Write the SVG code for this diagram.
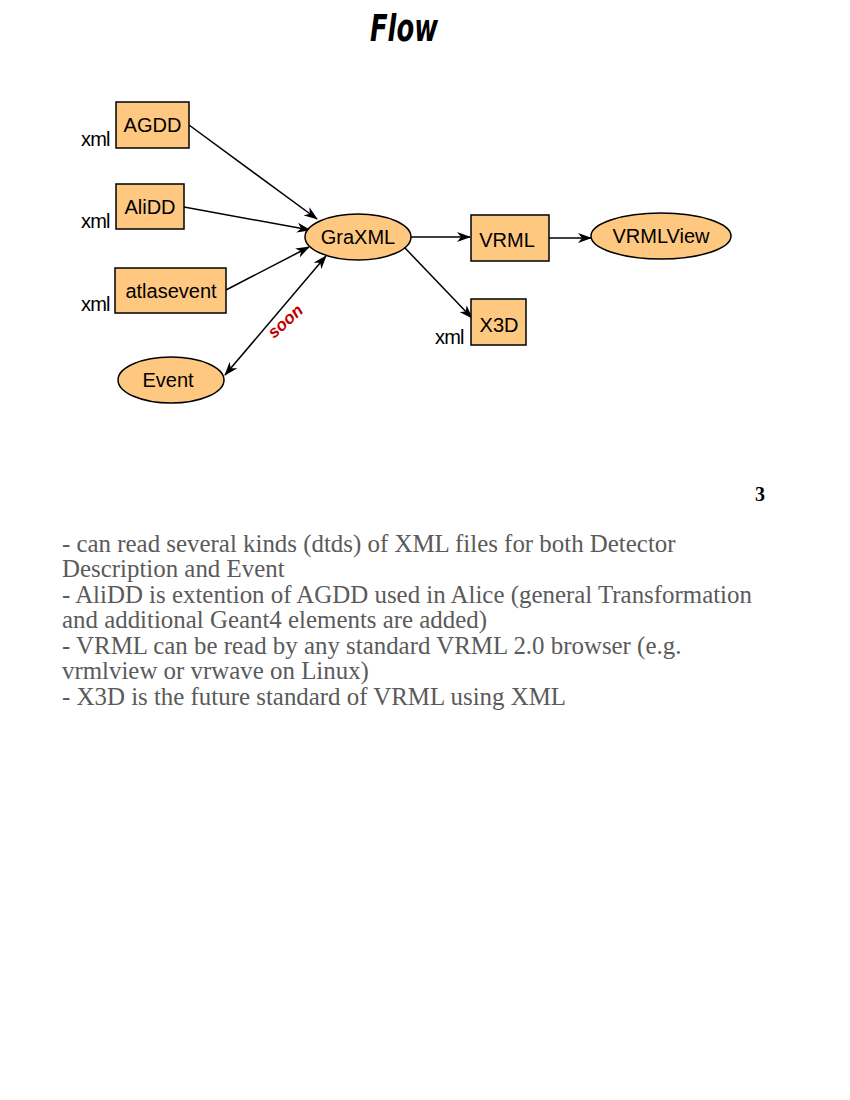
<svg xmlns="http://www.w3.org/2000/svg" width="850" height="1100" viewBox="0 0 850 1100">
<defs>
<marker id="ah" viewBox="0 0 14 10" refX="13" refY="5" markerWidth="14" markerHeight="10" markerUnits="userSpaceOnUse" orient="auto-start-reverse">
<path d="M0,0 L14,5 L0,10 L4,5 Z" fill="#000"/>
</marker>
</defs>
<style>
.box{fill:#FFC880;stroke:#000;stroke-width:1.5}
.lbl{font-family:"Liberation Sans",Arial,sans-serif;font-size:20px;fill:#000}
.xml{font-family:"Liberation Sans",Arial,sans-serif;font-size:20px;fill:#000;letter-spacing:-0.8px}
.edge{stroke:#000;stroke-width:1.5;fill:none;marker-end:url(#ah)}
.body{font-family:"Liberation Serif","Times New Roman",serif;font-size:24.9px;fill:#5a5a5a}
</style>
<rect width="850" height="1100" fill="#fff"/>
<text x="370" y="41" textLength="68" lengthAdjust="spacingAndGlyphs" font-family="'DejaVu Sans Condensed','DejaVu Sans',sans-serif" font-weight="bold" font-style="italic" font-size="38" fill="#000">Flow</text>
<g id="connectors">
<line class="edge" x1="189" y1="125" x2="317" y2="219"/>
<line class="edge" x1="184" y1="207" x2="310" y2="230"/>
<line class="edge" x1="226" y1="290" x2="309" y2="247"/>
<line class="edge" x1="225" y1="375" x2="326" y2="256" marker-start="url(#ah)"/>
<line class="edge" x1="411" y1="237" x2="470" y2="237"/>
<line class="edge" x1="549" y1="238" x2="591" y2="238"/>
<line class="edge" x1="405" y1="248" x2="472" y2="318"/>
<text x="0" y="0" transform="translate(274,339) rotate(-42)" font-family="'Liberation Sans Narrow','Liberation Sans',sans-serif" font-weight="bold" font-style="italic" font-size="17" fill="#c00000">soon</text>
</g>
<g id="AGDD">
<rect class="box" x="116" y="102" width="73" height="46"/>
<text class="lbl" x="152.5" y="132" text-anchor="middle">AGDD</text>
<text class="xml" x="81" y="146">xml</text>
</g>
<g id="AliDD">
<rect class="box" x="116" y="184" width="68" height="45"/>
<text class="lbl" x="150" y="214" text-anchor="middle">AliDD</text>
<text class="xml" x="81" y="228">xml</text>
</g>
<g id="atlasevent">
<rect class="box" x="115" y="268" width="111" height="45"/>
<text class="lbl" x="171" y="298" text-anchor="middle">atlasevent</text>
<text class="xml" x="81" y="311">xml</text>
</g>
<g id="GraXML">
<ellipse class="box" cx="358" cy="237" rx="53" ry="23"/>
<text class="lbl" x="358" y="244" text-anchor="middle">GraXML</text>
</g>
<g id="VRML">
<rect class="box" x="471" y="215" width="78" height="46"/>
<text class="lbl" x="507" y="247" text-anchor="middle">VRML</text>
</g>
<g id="VRMLView">
<ellipse class="box" cx="661" cy="236" rx="70" ry="23"/>
<text class="lbl" x="661" y="243" text-anchor="middle">VRMLView</text>
</g>
<g id="X3D">
<rect class="box" x="471" y="299" width="55" height="46"/>
<text class="lbl" x="499" y="332" text-anchor="middle">X3D</text>
<text class="xml" x="435" y="344">xml</text>
</g>
<g id="Event">
<ellipse class="box" cx="171" cy="380" rx="53" ry="23"/>
<text class="lbl" x="168" y="387" text-anchor="middle">Event</text>
</g>
<text x="765" y="501" text-anchor="end" font-family="'Liberation Serif',serif" font-weight="bold" font-size="20" fill="#000">3</text>
<g id="notes">
<text class="body" x="62" y="552">- can read several kinds (dtds) of XML files for both Detector</text>
<text class="body" x="62" y="577">Description and Event</text>
<text class="body" x="62" y="603">- AliDD is extention of AGDD used in Alice (general Transformation</text>
<text class="body" x="62" y="628">and additional Geant4 elements are added)</text>
<text class="body" x="62" y="654">- VRML can be read by any standard VRML 2.0 browser (e.g.</text>
<text class="body" x="62" y="679">vrmlview or vrwave on Linux)</text>
<text class="body" x="62" y="705">- X3D is the future standard of VRML using XML</text>
</g>
</svg>
